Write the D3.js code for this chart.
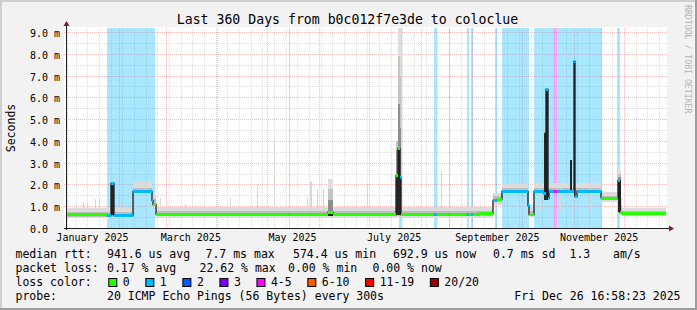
<!DOCTYPE html>
<html>
<head>
<meta charset="utf-8">
<script src="https://cdn.jsdelivr.net/npm/d3@7"></script>
<style>
  body { margin: 0; background: #f2f2f2; }
  text { font-family: "DejaVu Sans Mono", monospace; }
</style>
</head>
<body>
<svg id="chart" width="697" height="310"></svg>
<script>
// ---- data (time in days after the start of the 360 day window, rtt in ms) ----
var lossColors = ["#26ff00", "#00b8ff", "#0059ff", "#7e00ff", "#ff00ff", "#ff5500", "#ff0000", "#a00000"];
var lossLabels = ["0", "1", "2", "3", "4-5", "6-10", "11-19", "20/20"];

// median rtt, each step holds until the next day value
var medDay  = [0, 24, 26.6, 28.0, 39.6, 51.0, 51.6, 53.4, 133.2, 133.8, 156.6, 159.6, 197.4, 198.3, 199.5, 200.4,
               220.2, 221.8, 229.0, 229.6, 240.2, 241.4, 242.6, 243.6, 247.0, 255.8, 258.0, 261.0, 276.8, 277.4,
               280.2, 286.2, 287.4, 288.4, 289.4, 292.4, 294.0, 303.9, 304.8, 305.8, 320.1, 321.2, 329.8, 330.6,
               331.6, 332.8];
var medVal  = [0.62, 0.60, 2.05, 0.60, 1.70, 1.30, 1.12, 0.63, 0.63, 0.63, 0.75, 0.63, 2.43, 3.66, 2.36, 0.62,
               0.62, 0.62, 0.62, 0.62, 0.62, 0.62, 0.62, 0.62, 0.67, 1.30, 1.35, 1.71, 1.05, 0.66,
               1.71, 1.59, 6.40, 1.40, 1.71, 1.71, 1.71, 7.68, 1.47, 1.71, 1.41, 1.36, 1.36, 2.20,
               0.75, 0.69];
var medLoss = [0, 1, 1, 1, 1, 1, 0, 0, 1, 0, 0, 0, 0, 0, 1, 0,
               1, 0, 1, 0, 1, 0, 1, 0, 0, 1, 0, 1, 1, 0,
               1, 1, 1, 1, 1, 4, 1, 1, 1, 1, 1, 0, 1, 1,
               0, 0];
var lastDay = 359.4;

// periods with packet loss (background shading)
var lossBgStart = [24.2, 133.0, 199.4, 220.2, 229.0, 240.2, 242.6, 256.6, 261.0, 280.2, 292.4, 294.0, 329.8];
var lossBgEnd   = [52.8, 133.8, 201.0, 221.8, 229.8, 241.4, 243.6, 258.0, 277.2, 292.4, 294.0, 320.8, 331.5];
var lossBgLevel = [1, 1, 1, 1, 1, 1, 1, 1, 1, 1, 4, 1, 1];

// smoke: outer spread and inner core of the 20 pings
var smokeDay = [0, 24, 39.6, 51.0, 53.4, 197.4, 200.8, 255.8, 261.0, 276.8, 280.2, 320.1, 330.8, 332.8];
var smokeLo  = [0.45, 0.48, 1.55, 0.95, 0.48, 0.50, 0.48, 1.05, 1.55, 0.52, 1.55, 1.20, 0.65, 0.55];
var smokeHi  = [0.92, 0.92, 2.10, 1.50, 0.95, 0.95, 0.98, 1.62, 2.02, 1.05, 2.05, 1.66, 1.40, 0.92];
var coreLo   = [0.52, 0.52, 1.62, 1.05, 0.54, 0.54, 0.54, 1.20, 1.62, 0.58, 1.62, 1.28, 0.70, 0.60];
var coreHi   = [0.75, 0.72, 1.82, 1.35, 0.76, 0.76, 0.78, 1.45, 1.82, 0.80, 1.82, 1.48, 1.00, 0.80];

// single sample smoke spikes
var spikeDay = [5.4, 9.6, 12.0, 16.8, 19.2, 31.8, 36.0, 46.8, 55.8, 70.8, 97.8, 113.7, 124.2, 144.0, 145.8, 146.4,
                150.0, 153.6, 180.0, 224.4, 237.0, 247.8, 283.8, 295.8, 313.8];
var spikeTop = [1.05, 1.20, 1.15, 1.32, 1.35, 1.20, 1.55, 2.20, 1.40, 1.10, 1.40, 1.97, 3.90, 1.36, 2.10, 2.10,
                1.74, 1.80, 2.00, 2.60, 1.10, 1.05, 2.15, 2.12, 2.10];

// dense smoke columns (big rtt excursions)
var colStart = [26.4, 156.6, 197.4, 198.3, 199.5, 286.2, 287.4, 302.0, 303.9, 330.6];
var colEnd   = [28.2, 159.6, 198.3, 199.5, 200.4, 287.4, 288.6, 303.0, 304.9, 332.2];
var colBase  = [0.60, 0.55, 0.60, 0.60, 0.60, 1.28, 1.28, 1.60, 1.45, 0.75];
var colDark  = [2.05, 0.80, 2.43, 3.66, 2.36, 4.38, 6.40, 3.12, 7.68, 2.20];
var colMid   = [2.05, 1.30, 3.60, 5.70, 4.60, 4.38, 6.40, 3.12, 7.68, 2.35];
var colUpper = [2.08, 1.80, 4.00, 7.90, 7.00, 4.45, 6.42, 3.14, 7.70, 2.50];
var colTop   = [2.10, 2.25, 4.00, 9.40, 9.40, 4.50, 6.45, 3.15, 7.70, 2.66];

// legend texts
var rttStats  = ["941.6 us avg", "7.7 ms max", "574.4 us min", "692.9 us now", "0.7 ms sd", "1.3", "am/s"];
var lossStats = ["0.17 % avg", "22.62 % max", "0.00 % min", "0.00 % now"];
var probeText = "20 ICMP Echo Pings (56 Bytes) every 300s";
var stampText = "Fri Dec 26 16:58:23 2025";
var titleText = "Last 360 Days from b0c012f7e3de to coloclue";

// ---- layout ----
var W = 697, H = 310;
var pl = 67, pr = 667, pt = 28, pb = 228;
var yMax = 9.183;
var rttX  = [107, 205.5, 293, 393, 493, 569.5, 613];
var lossX = [107, 199.5, 288, 372.5];

var end = new Date(2025, 11, 26, 16, 58, 23);
var start = new Date(end.getTime() - 360 * 864e5);
function day(d) { return new Date(start.getTime() + d * 864e5); }

var x = d3.scaleTime().domain([start, end]).range([pl, pr]);
var y = d3.scaleLinear().domain([0, yMax]).range([pb, pt]);
function px(d) { return Math.round(x(day(d))); }
function py(v) { return Math.round(y(Math.min(v, yMax))); }

var svg = d3.select("#chart");

// background + 3d frame
svg.append("rect").attr("width", W).attr("height", H).attr("fill", "#f2f2f2");
svg.append("rect").attr("x", 0).attr("y", 0).attr("width", W).attr("height", 2).attr("fill", "#cfcfcf");
svg.append("rect").attr("x", 0).attr("y", 0).attr("width", 2).attr("height", H).attr("fill", "#cfcfcf");
svg.append("rect").attr("x", 0).attr("y", H - 2).attr("width", W).attr("height", 2).attr("fill", "#9e9e9e");
svg.append("rect").attr("x", W - 2).attr("y", 0).attr("width", 2).attr("height", H).attr("fill", "#9e9e9e");

// canvas
svg.append("rect").attr("x", pl - 3).attr("y", pt - 1)
  .attr("width", pr - pl + 3).attr("height", pb - pt + 1).attr("fill", "#fff");

// grid
var grid = svg.append("g");
var months = d3.timeMonth.range(d3.timeMonth.ceil(start), end);
var majorX = months.map(function (m) { return Math.round(x(m)); });
d3.timeMonday.range(start, end).forEach(function (t) {
  var gx = Math.round(x(t));
  if (majorX.indexOf(gx) >= 0) return;
  grid.append("line").attr("x1", gx + 0.5).attr("x2", gx + 0.5).attr("y1", pt).attr("y2", pb)
    .attr("stroke", "rgba(143,143,143,0.75)").attr("stroke-width", 0.4).attr("stroke-dasharray", "1,1");
});
majorX.forEach(function (gx) {
  grid.append("line").attr("x1", gx + 0.5).attr("x2", gx + 0.5).attr("y1", pt).attr("y2", pb)
    .attr("stroke", "rgba(222,79,79,0.6)").attr("stroke-width", 0.6).attr("stroke-dasharray", "1,1");
});
d3.range(1, 19).forEach(function (k) {
  var v = k * 0.5, gy = Math.round(y(v)) + 0.5, major = (k % 2 === 0);
  grid.append("line").attr("x1", pl - 3).attr("x2", pr).attr("y1", gy).attr("y2", gy)
    .attr("stroke", major ? "rgba(222,79,79,0.6)" : "rgba(143,143,143,0.75)")
    .attr("stroke-width", major ? 0.6 : 0.4).attr("stroke-dasharray", "1,1");
});

// loss background
var plot = svg.append("g");
plot.selectAll(".lossbg").data(lossBgStart).enter().append("rect")
  .attr("x", function (d) { return px(d); })
  .attr("width", function (d, i) { return Math.max(1, px(lossBgEnd[i]) - px(d)); })
  .attr("y", pt).attr("height", pb - pt)
  .attr("fill", function (d, i) { return lossColors[lossBgLevel[i]]; })
  .attr("fill-opacity", 0.34);

// smoke
function segEnd(i) { return i + 1 < smokeDay.length ? smokeDay[i + 1] : lastDay; }
plot.selectAll(".smoke").data(smokeDay).enter().append("rect")
  .attr("x", function (d) { return px(d); })
  .attr("width", function (d, i) { return px(segEnd(i)) - px(d); })
  .attr("y", function (d, i) { return py(smokeHi[i]); })
  .attr("height", function (d, i) { return py(smokeLo[i]) - py(smokeHi[i]); })
  .attr("fill", "#dcdcdc");
plot.selectAll(".core").data(smokeDay).enter().append("rect")
  .attr("x", function (d) { return px(d); })
  .attr("width", function (d, i) { return px(segEnd(i)) - px(d); })
  .attr("y", function (d, i) { return py(coreHi[i]); })
  .attr("height", function (d, i) { return py(coreLo[i]) - py(coreHi[i]); })
  .attr("fill", "#bdbdbd");
plot.selectAll(".spike").data(spikeDay).enter().append("rect")
  .attr("x", function (d) { return px(d); })
  .attr("width", 1)
  .attr("y", function (d, i) { return py(spikeTop[i]); })
  .attr("height", function (d, i) { return py(0.8) - py(spikeTop[i]); })
  .attr("fill", "#d6d6d6");

var colLayers = [[colTop, "#dedede"], [colUpper, "#c4c4c4"], [colMid, "#8e8e8e"], [colDark, "#262626"]];
colLayers.forEach(function (layer) {
  plot.append("g").selectAll("rect").data(colStart).enter().append("rect")
    .attr("x", function (d) { return px(d); })
    .attr("width", function (d, i) { return Math.max(1, px(colEnd[i]) - px(d)); })
    .attr("y", function (d, i) { return py(layer[0][i]); })
    .attr("height", function (d, i) { return py(colBase[i]) - py(layer[0][i]); })
    .attr("fill", layer[1]);
});

// median: thin dark step line, then loss coloured pieces
var medPts = medDay.map(function (d, i) { return [d, medVal[i]]; });
medPts.push([lastDay, medVal[medVal.length - 1]]);
plot.append("path")
  .attr("d", d3.line().x(function (p) { return px(p[0]); }).y(function (p) { return py(p[1]) + 0.5; })
    .curve(d3.curveStepAfter)(medPts))
  .attr("fill", "none").attr("stroke", "#1e1e1e").attr("stroke-width", 1.3);
plot.selectAll(".med").data(medDay).enter().append("line")
  .attr("x1", function (d) { return px(d); })
  .attr("x2", function (d, i) { return px(i + 1 < medDay.length ? medDay[i + 1] : lastDay); })
  .attr("y1", function (d, i) { return py(medVal[i]) + 0.5; })
  .attr("y2", function (d, i) { return py(medVal[i]) + 0.5; })
  .attr("stroke", function (d, i) { return lossColors[medLoss[i]]; })
  .attr("stroke-width", 3);

// axes
svg.append("line").attr("x1", pl - 0.5).attr("x2", pl - 0.5).attr("y1", pb + 2).attr("y2", pt - 4)
  .attr("stroke", "#1f1f1f").attr("stroke-width", 1);
svg.append("line").attr("x1", pl - 3).attr("x2", pr + 2).attr("y1", pb + 0.5).attr("y2", pb + 0.5)
  .attr("stroke", "#1f1f1f").attr("stroke-width", 1);
svg.append("path").attr("d", "M" + (pl - 3.5) + "," + (pt - 2) + "L" + (pl + 2.5) + "," + (pt - 2) +
  "L" + (pl - 0.5) + "," + (pt - 7) + "Z").attr("fill", "#801f1f");
svg.append("path").attr("d", "M" + (pr + 2) + "," + (pb - 2.5) + "L" + (pr + 2) + "," + (pb + 3.5) +
  "L" + (pr + 7) + "," + (pb + 0.5) + "Z").attr("fill", "#801f1f");

// y tick labels
d3.range(0, 10).forEach(function (v) {
  svg.append("text").attr("x", 30).attr("y", Math.round(y(v)) + 4.8)
    .attr("font-size", "10px").attr("fill", "#000")
    .text(v === 0 ? "0.0" : d3.format(".1f")(v) + " m");
});

// x labels: every second month, centred half a month in
d3.timeMonth.every(2).range(d3.timeMonth.ceil(start), end).forEach(function (m) {
  svg.append("text").attr("x", x(d3.timeDay.offset(m, 15))).attr("y", 240.6)
    .attr("text-anchor", "middle").attr("font-size", "10px")
    .text(d3.timeFormat("%B %Y")(m));
});

// title, axis title, watermark
svg.append("text").attr("x", 347.5).attr("y", 24).attr("text-anchor", "middle")
  .attr("font-size", "13.2px").text(titleText);
svg.append("text").attr("transform", "translate(15,128) rotate(-90)").attr("text-anchor", "middle")
  .attr("font-size", "11.5px").text("Seconds");
svg.append("text").attr("transform", "translate(684.5,5) rotate(90)")
  .attr("font-size", "8.2px").attr("fill", "#b4b4b4").text("RRDTOOL / TOBI OETIKER");

// legend
var fs = "11.5px";
var lg = svg.append("g").attr("font-size", fs).attr("fill", "#000");
var rowY = [258.3, 272.2, 286.1, 300];
lg.append("text").attr("x", 15.5).attr("y", rowY[0]).text("median rtt:");
rttStats.forEach(function (s, i) { lg.append("text").attr("x", rttX[i]).attr("y", rowY[0]).text(s); });
lg.append("text").attr("x", 15.5).attr("y", rowY[1]).text("packet loss:");
lossStats.forEach(function (s, i) { lg.append("text").attr("x", lossX[i]).attr("y", rowY[1]).text(s); });
lg.append("text").attr("x", 15.5).attr("y", rowY[2]).text("loss color:");
var bx = 108.3;
lossLabels.forEach(function (lab, i) {
  lg.append("rect").attr("x", bx + 0.5).attr("y", 278.5).attr("width", 8).attr("height", 8)
    .attr("fill", lossColors[i]).attr("stroke", "#000").attr("stroke-width", 1);
  var t = lg.append("text").attr("x", bx + 14.5).attr("y", rowY[2]).text(lab);
  bx = bx + 14.5 + t.node().getComputedTextLength() + 15.6;
});
lg.append("text").attr("x", 15.5).attr("y", rowY[3]).text("probe:");
lg.append("text").attr("x", 107).attr("y", rowY[3]).text(probeText);
lg.append("text").attr("x", 680.5).attr("y", rowY[3]).attr("text-anchor", "end").text(stampText);
</script>
</body>
</html>
